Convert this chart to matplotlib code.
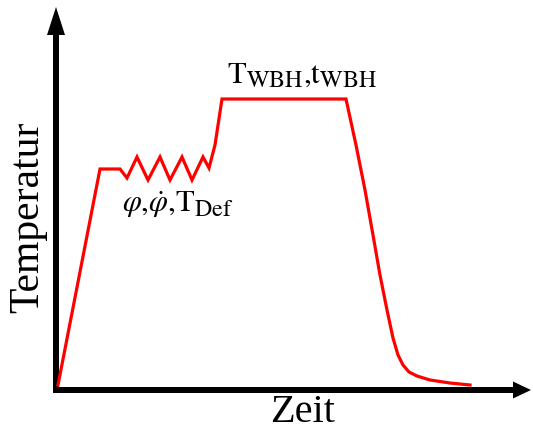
import matplotlib
matplotlib.use("Agg")
import matplotlib.pyplot as plt
import matplotlib._mathtext as mt

plt.rcParams['mathtext.fontset'] = 'stix'
plt.rcParams['font.family'] = ['Liberation Serif', 'DejaVu Serif']
# slightly larger subscripts, like the reference
mt.SHRINK_FACTOR = 0.78

# Temperature-time path (arbitrary units, origin at axis corner)
zeit = [2, 44, 64, 71, 81, 92, 104, 114, 126, 136, 147, 153, 159, 166,
        290, 300, 309, 317, 324, 331, 337, 342, 347, 353, 361, 374, 394, 414]
temperatur = [5, 221, 221, 212, 233, 210, 233, 210, 233, 210, 233, 222, 245, 291,
              291, 245, 200, 155, 115, 80, 52, 35, 25, 18, 14, 10, 7, 5]

x_label = "Zeit"
y_label = "Temperatur"
label_wbh = r'$\mathrm{T}_{\mathrm{WBH}}{,}\mathrm{t}_{\mathrm{WBH}}$'
label_def = r'$\varphi{,}\dot{\varphi}{,}\mathrm{T}_{\mathrm{Def}}$'

fig = plt.figure(figsize=(5.33, 4.29), dpi=100)
ax = fig.add_axes([0, 0, 1, 1])
ax.set_xlim(-56, 477)
ax.set_ylim(-39, 390)
ax.axis('off')

# axes as arrows
ax.arrow(0, -3, 0, 386, width=6, head_width=18, head_length=28,
         length_includes_head=True, color='black', lw=0)
ax.arrow(-3, 0, 478, 0, width=6, head_width=17, head_length=18,
         length_includes_head=True, color='black', lw=0)

ax.plot(zeit, temperatur, color='red', lw=2.3, solid_joinstyle='miter')

ax.text(-28, 173, y_label, rotation=90, ha='center', va='center', fontsize=30)
ax.text(247, -22, x_label, ha='center', va='center', fontsize=29)
ax.text(171, 307, label_wbh, ha='left', va='baseline', fontsize=22)
ax.text(66, 178, label_def, ha='left', va='baseline', fontsize=22)

fig.savefig("out.png", dpi=100)
